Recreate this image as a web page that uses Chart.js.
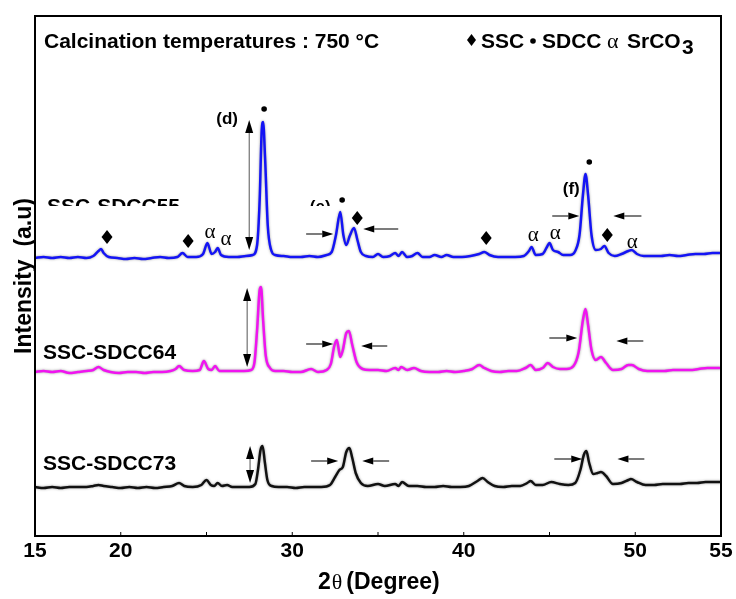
<!DOCTYPE html>
<html>
<head>
<meta charset="utf-8">
<script src="https://cdn.jsdelivr.net/npm/chart.js@4.4.1/dist/chart.umd.min.js"></script>
<style>
  html, body { margin: 0; padding: 0; background: #fff; }
  #wrap { width: 736px; height: 599px; }
</style>
</head>
<body>
<div id="wrap"><canvas id="xrdCanvas" width="736" height="599"></canvas></div>
<script>
// 2theta (deg) and intensity (a.u., stacked)
var angles55 = [15.0, 15.5, 16.0, 16.5, 17.0, 17.5, 18.0, 18.4, 18.7, 18.85, 19.0, 19.3, 19.8, 20.3, 20.8, 21.3, 21.8, 22.3, 22.8, 23.3, 23.6, 23.9, 24.4, 24.8, 25.05, 25.3, 25.5, 25.65, 25.85, 26.3, 26.8, 27.3, 27.7, 27.95, 28.1, 28.22, 28.3, 28.42, 28.57, 28.77, 29.0, 29.5, 30.0, 30.5, 31.0, 31.5, 32.0, 32.3, 32.55, 32.8, 32.98, 33.15, 33.35, 33.6, 33.8, 34.0, 34.3, 34.7, 35.0, 35.3, 35.7, 36.0, 36.2, 36.4, 36.7, 37.0, 37.3, 37.6, 38.0, 38.3, 38.7, 39.0, 39.4, 39.9, 40.4, 40.9, 41.2, 41.5, 42.0, 42.5, 43.0, 43.5, 43.8, 43.95, 44.2, 44.6, 44.85, 45.0, 45.2, 45.5, 45.8, 46.2, 46.5, 46.75, 46.95, 47.1, 47.25, 47.45, 47.7, 48.0, 48.2, 48.45, 48.8, 49.2, 49.6, 49.8, 50.1, 50.5, 51.0, 51.5, 52.0, 52.5, 53.0, 53.5, 54.0, 54.5, 55.0];
var counts55 = [278, 279, 278, 279, 278, 279, 278, 280, 285, 287, 283, 279, 278, 277, 278, 277, 278, 279, 278, 279, 283, 279, 279, 282, 293, 282, 284, 288, 281, 279, 279, 280, 281, 291, 336, 406, 414, 376, 311, 286, 281, 280, 279, 279, 280, 279, 281, 284, 301, 324, 301, 291, 300, 308, 296, 284, 280, 279, 282, 279, 280, 283, 280, 284, 279, 280, 283, 279, 279, 281, 279, 281, 279, 279, 280, 282, 284, 281, 279, 279, 279, 280, 285, 289, 281, 282, 289, 293, 286, 284, 281, 281, 285, 301, 341, 362, 341, 301, 286, 287, 290, 283, 280, 282, 285, 286, 282, 280, 280, 280, 281, 280, 281, 282, 282, 283, 283];

var angles64 = [15.0, 15.5, 16.0, 16.5, 17.0, 17.5, 18.0, 18.4, 18.7, 19.0, 19.4, 19.9, 20.4, 20.9, 21.4, 21.9, 22.4, 22.9, 23.2, 23.4, 23.7, 24.2, 24.6, 24.85, 25.1, 25.3, 25.5, 25.75, 26.2, 26.7, 27.2, 27.6, 27.8, 27.95, 28.1, 28.18, 28.3, 28.45, 28.7, 29.0, 29.5, 30.0, 30.5, 31.1, 31.5, 32.0, 32.25, 32.45, 32.6, 32.8, 32.95, 33.15, 33.3, 33.5, 33.75, 34.1, 34.5, 35.0, 35.5, 36.0, 36.2, 36.35, 36.7, 37.1, 37.5, 38.0, 38.5, 39.0, 39.5, 40.0, 40.5, 40.9, 41.2, 41.6, 42.1, 42.6, 43.1, 43.6, 43.9, 44.2, 44.6, 44.9, 45.2, 45.6, 46.0, 46.4, 46.7, 46.95, 47.1, 47.25, 47.45, 47.7, 48.0, 48.3, 48.7, 49.2, 49.6, 49.8, 50.2, 50.7, 51.2, 51.7, 52.2, 52.7, 53.2, 53.7, 54.2, 54.7, 55.0];
var counts64 = [164, 165, 164, 165, 163, 164, 165, 166, 169, 166, 164, 163, 164, 164, 163, 164, 164, 165, 167, 170, 166, 165, 166, 175, 167, 166, 170, 165, 165, 165, 165, 166, 174, 206, 246, 249, 216, 181, 168, 165, 165, 164, 164, 167, 164, 166, 172, 190, 196, 179, 186, 203, 205, 191, 174, 167, 166, 166, 165, 168, 166, 169, 166, 168, 165, 164, 164, 165, 164, 165, 167, 171, 168, 165, 164, 165, 165, 168, 171, 166, 168, 173, 169, 167, 167, 170, 184, 216, 227, 211, 186, 176, 179, 173, 166, 167, 171, 171, 167, 165, 165, 165, 166, 166, 166, 167, 168, 168, 168];

var angles73 = [15.0, 15.5, 16.0, 16.5, 17.0, 17.5, 18.0, 18.4, 18.7, 19.0, 19.5, 20.0, 20.5, 21.0, 21.5, 22.0, 22.5, 23.0, 23.4, 23.7, 24.2, 24.7, 25.0, 25.25, 25.45, 25.65, 25.9, 26.2, 26.5, 27.0, 27.5, 27.85, 28.0, 28.15, 28.27, 28.4, 28.55, 28.8, 29.2, 29.7, 30.2, 30.7, 31.2, 31.7, 32.2, 32.5, 32.75, 32.95, 33.15, 33.33, 33.5, 33.7, 34.0, 34.4, 35.0, 35.4, 36.0, 36.2, 36.4, 36.8, 37.3, 37.8, 38.3, 38.8, 39.3, 39.8, 40.3, 40.8, 41.1, 41.4, 41.8, 42.3, 42.8, 43.3, 43.7, 43.9, 44.2, 44.6, 45.1, 45.6, 46.1, 46.5, 46.8, 47.0, 47.15, 47.3, 47.55, 47.8, 48.0, 48.3, 48.7, 49.2, 49.6, 49.75, 50.1, 50.6, 51.1, 51.6, 52.1, 52.6, 53.1, 53.6, 54.1, 54.6, 55.0];
var counts73 = [49, 48, 49, 48, 49, 49, 49, 50, 51, 50, 49, 48, 49, 48, 49, 48, 49, 50, 53, 50, 49, 51, 56, 51, 50, 53, 50, 51, 49, 49, 49, 52, 66, 86, 90, 74, 56, 50, 49, 49, 48, 49, 49, 49, 51, 59, 66, 69, 84, 88, 78, 63, 53, 50, 52, 50, 52, 50, 54, 50, 50, 49, 49, 50, 49, 49, 50, 55, 58, 54, 50, 49, 50, 50, 53, 55, 51, 51, 54, 52, 51, 53, 66, 81, 85, 74, 62, 63, 64, 60, 52, 53, 56, 57, 54, 51, 51, 52, 52, 52, 53, 53, 54, 54, 54];

var sampleNames = ["SSC-SDCC55", "SSC-SDCC64", "SSC-SDCC73"];
var xTickValues = [15, 20, 25, 30, 35, 40, 45, 50, 55];
var xTickLabeled = [15, 20, 30, 40, 50, 55];

// phase markers and arrows, in (2theta, intensity)
var sdccDots = [[28.36, 427], [32.91, 336], [47.32, 374]];
var sscDiamonds = [[19.2, 299], [23.93, 295], [33.79, 318], [41.31, 298], [48.37, 301]];
var srco3Alphas = [[25.21, 304], [26.14, 297], [44.05, 301], [45.34, 303], [49.83, 294]];
var shiftArrows = [
  [30.81, 302, 32.39, 302], [36.18, 307, 34.14, 307], [45.16, 320, 46.74, 320], [50.36, 320, 48.72, 320],
  [30.81, 192, 32.39, 192], [35.54, 190, 34.02, 190], [44.99, 198, 46.62, 198], [50.47, 195, 48.9, 195],
  [31.1, 75, 32.68, 75], [35.65, 75, 34.08, 75], [45.28, 77, 46.91, 77], [50.53, 77, 48.96, 77]
];
var heightArrows = [[27.49, 416, 286], [27.37, 248, 169], [27.54, 90, 53]];

var SANS = '"Liberation Sans", Arial, Helvetica, sans-serif';
var SERIF = '"Liberation Serif", "Times New Roman", "DejaVu Serif", serif';

function toPoints(xs, ys) {
  return xs.map(function (x, i) { return { x: x, y: ys[i] }; });
}

function diamond(c, x, y, w, h) {
  c.beginPath();
  c.moveTo(x, y - h / 2);
  c.lineTo(x + w / 2, y);
  c.lineTo(x, y + h / 2);
  c.lineTo(x - w / 2, y);
  c.closePath();
  c.fill();
}

function hArrow(c, x1, y1, x2, y2) {
  var dir = x2 > x1 ? 1 : -1;
  var len = 11, half = 3.5;
  c.strokeStyle = "#444";
  c.lineWidth = 1.4;
  c.beginPath();
  c.moveTo(x1, y1);
  c.lineTo(x2 - dir * len, y2);
  c.stroke();
  c.beginPath();
  c.moveTo(x2, y2);
  c.lineTo(x2 - dir * len, y2 - half);
  c.lineTo(x2 - dir * len, y2 + half);
  c.closePath();
  c.fill();
}

function vDoubleArrow(c, x, yTop, yBot) {
  var len = 13, half = 4;
  c.strokeStyle = "#555";
  c.lineWidth = 1;
  c.beginPath();
  c.moveTo(x, yTop + len);
  c.lineTo(x, yBot - len);
  c.stroke();
  c.beginPath();
  c.moveTo(x, yTop);
  c.lineTo(x - half, yTop + len);
  c.lineTo(x + half, yTop + len);
  c.closePath();
  c.fill();
  c.beginPath();
  c.moveTo(x, yBot);
  c.lineTo(x - half, yBot - len);
  c.lineTo(x + half, yBot - len);
  c.closePath();
  c.fill();
}

var haloPlugin = {
  id: "halo",
  beforeDatasetsDraw: function (chart) {
    chart.ctx.save();
    chart.ctx.shadowColor = "rgba(0,0,0,0.4)";
    chart.ctx.shadowBlur = 2.5;
  },
  afterDatasetsDraw: function (chart) {
    chart.ctx.restore();
  }
};

var decorPlugin = {
  id: "decor",
  afterDraw: function (chart) {
    var c = chart.ctx;
    var sx = chart.scales.x, sy = chart.scales.y;
    var a = chart.chartArea;
    function px(v) { return sx.getPixelForValue(v); }
    function py(v) { return sy.getPixelForValue(v); }

    c.save();
    // frame
    c.strokeStyle = "#000";
    c.lineWidth = 2;
    c.strokeRect(a.left, a.top, a.right - a.left, a.bottom - a.top);
    // inward ticks
    c.lineWidth = 1;
    xTickValues.forEach(function (v) {
      c.beginPath();
      c.moveTo(px(v), a.bottom);
      c.lineTo(px(v), a.bottom - 4);
      c.stroke();
    });

    c.fillStyle = "#000";
    // sample labels
    c.font = "bold 21px " + SANS;
    c.textAlign = "left";
    c.textBaseline = "alphabetic";
    c.fillText(sampleNames[1], px(15.47), py(177));
    c.fillText(sampleNames[2], px(15.47), py(66));
    c.save();
    c.beginPath();
    c.rect(a.left, a.top, a.right - a.left, py(330) - a.top);
    c.clip();
    c.fillText(sampleNames[0], px(15.7), py(323));
    c.font = "bold 17px " + SANS;
    c.textAlign = "center";
    c.fillText("(e)", px(31.63), py(324));
    c.restore();

    c.font = "bold 17px " + SANS;
    c.textAlign = "center";
    c.fillText("(d)", px(26.2), py(412));
    c.fillText("(f)", px(46.27), py(342));

    // markers
    sdccDots.forEach(function (d) {
      c.beginPath();
      c.arc(px(d[0]), py(d[1]), 2.8, 0, Math.PI * 2);
      c.fill();
    });
    sscDiamonds.forEach(function (d) {
      diamond(c, px(d[0]), py(d[1]), 11, 14);
    });
    c.font = "21px " + SERIF;
    c.textBaseline = "middle";
    srco3Alphas.forEach(function (d) {
      c.fillText("\u03b1", px(d[0]), py(d[1]));
    });
    shiftArrows.forEach(function (d) {
      hArrow(c, px(d[0]), py(d[1]), px(d[2]), py(d[3]));
    });
    heightArrows.forEach(function (d) {
      vDoubleArrow(c, px(d[0]), py(d[1]), py(d[2]));
    });

    // header
    c.textBaseline = "alphabetic";
    c.textAlign = "left";
    c.font = "bold 21px " + SANS;
    c.fillText("Calcination temperatures : 750 \u00b0C", 44, 48);
    diamond(c, 471.5, 40, 9, 12);
    c.fillText("SSC", 481, 48);
    c.beginPath();
    c.arc(533, 41, 2.8, 0, Math.PI * 2);
    c.fill();
    c.fillText("SDCC", 542, 48);
    c.font = "22px " + SERIF;
    c.fillText("\u03b1", 607, 48);
    c.font = "bold 21px " + SANS;
    c.fillText("SrCO", 627, 48);
    c.fillText("3", 682, 54);

    // axis titles
    var tx = 318;
    c.font = "bold 23px " + SANS;
    c.fillText("2", tx, 589);
    tx += c.measureText("2").width + 1;
    c.font = "22px " + SERIF;
    c.fillText("\u03b8", tx, 589);
    tx += c.measureText("\u03b8").width + 4;
    c.font = "bold 23px " + SANS;
    c.fillText("(Degree)", tx, 589);

    c.save();
    c.translate(31, (a.top + a.bottom) / 2);
    c.rotate(-Math.PI / 2);
    c.textAlign = "center";
    c.font = "bold 23px " + SANS;
    c.fillText("Intensity  (a.u)", 0, 0);
    c.restore();

    c.restore();
  }
};

var ctx = document.getElementById("xrdCanvas");
var xrdChart = new Chart(ctx, {
  type: "line",
  data: {
    datasets: [
      {
        label: sampleNames[0],
        data: toPoints(angles55, counts55),
        borderColor: "#1414f5",
        borderWidth: 2.5
      },
      {
        label: sampleNames[1],
        data: toPoints(angles64, counts64),
        borderColor: "#f014f0",
        borderWidth: 2.5
      },
      {
        label: sampleNames[2],
        data: toPoints(angles73, counts73),
        borderColor: "#111111",
        borderWidth: 2.5
      }
    ]
  },
  options: {
    responsive: false,
    animation: false,
    devicePixelRatio: 1,
    layout: { padding: { left: 35, right: 15, top: 16, bottom: 0 } },
    elements: { point: { radius: 0 }, line: { cubicInterpolationMode: "monotone" } },
    plugins: { legend: { display: false }, tooltip: { enabled: false } },
    scales: {
      x: {
        type: "linear",
        min: 15,
        max: 55,
        grid: { display: false, drawTicks: false },
        border: { display: false },
        afterBuildTicks: function (scale) {
          scale.ticks = xTickValues.map(function (v) { return { value: v }; });
        },
        afterFit: function (scale) {
          scale.height = 63;
        },
        ticks: {
          autoSkip: false,
          maxRotation: 0,
          padding: 3,
          color: "#000",
          font: { family: SANS, size: 21, weight: "bold" },
          callback: function (v) {
            return xTickLabeled.indexOf(v) >= 0 ? String(v) : "";
          }
        }
      },
      y: {
        display: false,
        min: 0,
        max: 520
      }
    }
  },
  plugins: [haloPlugin, decorPlugin]
});
</script>
</body>
</html>
